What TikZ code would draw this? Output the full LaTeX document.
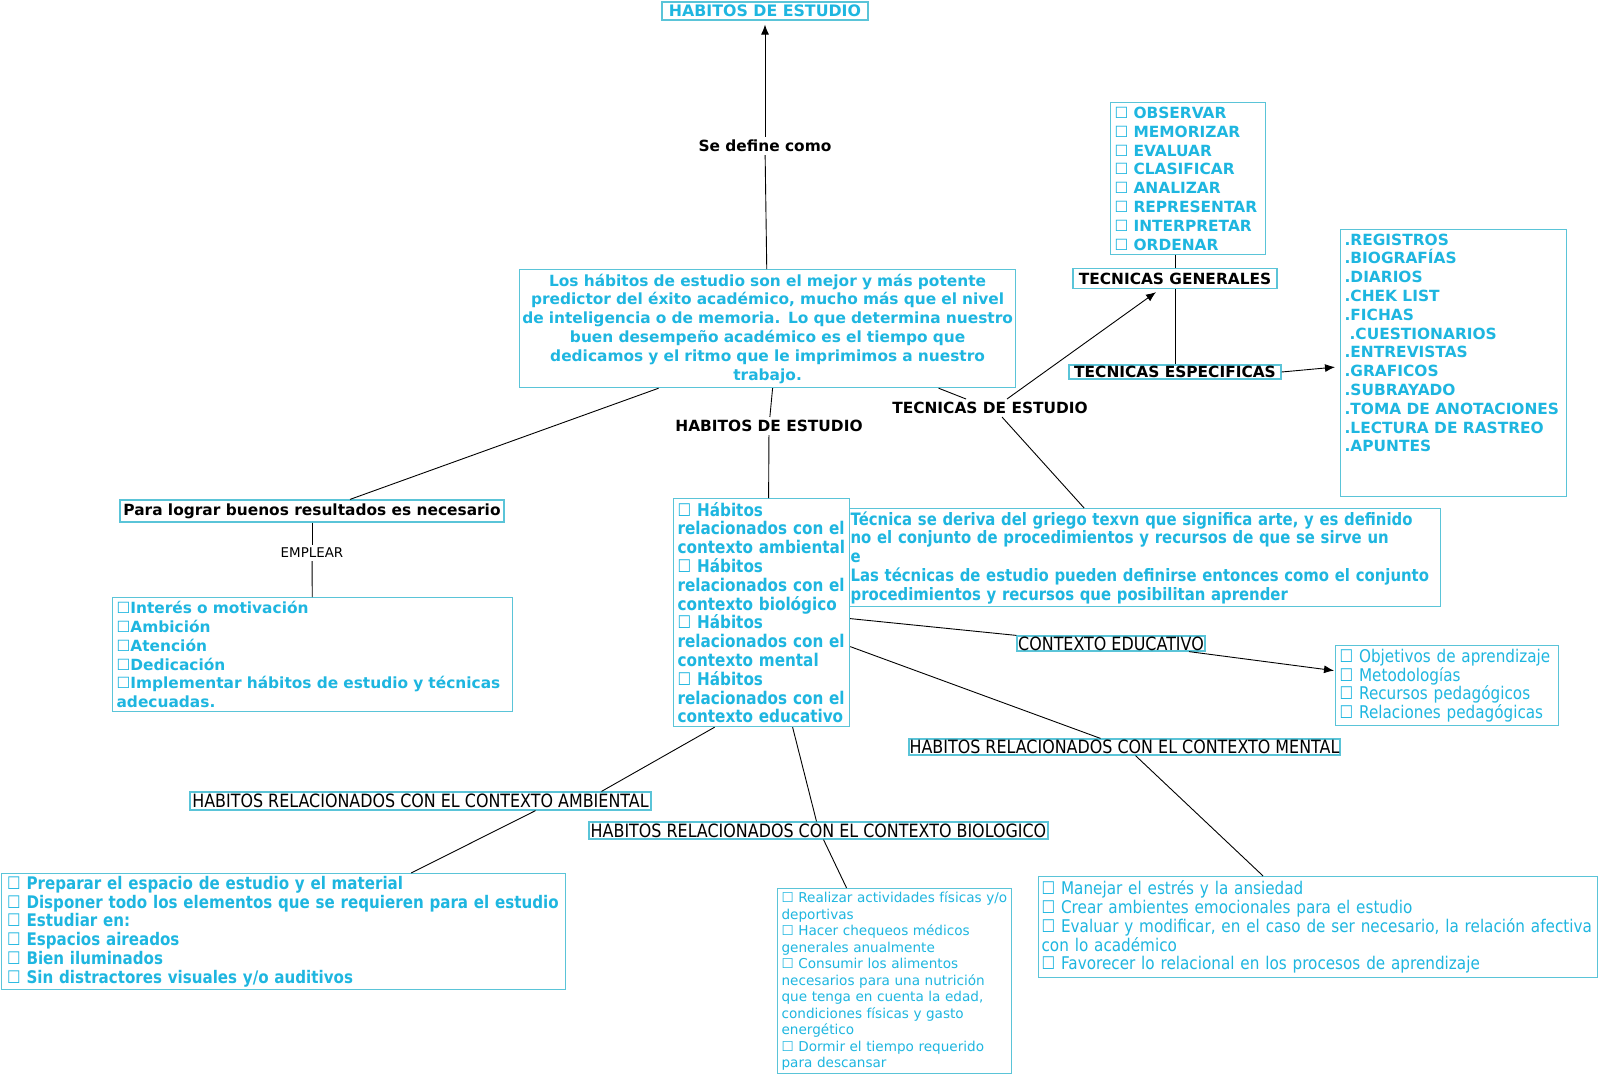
\documentclass[tikz,border=0pt]{standalone}
\usepackage{fontspec}
\setmainfont{DejaVu Sans}
\newfontfamily\condf{DejaVu Sans}[FakeStretch=0.87]
\usetikzlibrary{arrows.meta}
\definecolor{tc}{RGB}{30,182,224}
\definecolor{bc}{RGB}{90,196,216}
\hyphenpenalty=10000
\exhyphenpenalty=10000
\newcommand\fBold{\bfseries\fontsize{15.4}{18.8}\selectfont}
\newcommand\fTop{\bfseries\fontsize{15.8}{18.8}\selectfont}
\newcommand\fCB{\condf\bfseries\fontsize{17.5}{18.8}\selectfont}
\newcommand\fCBs{\condf\bfseries\fontsize{17.1}{18.8}\selectfont}
\newcommand\fCBa{\condf\bfseries\fontsize{17.35}{18.8}\selectfont}
\newcommand\fCR{\condf\fontsize{17.5}{18.8}\selectfont}
\newcommand\fLab{\condf\fontsize{18.3}{18.8}\selectfont}
\newcommand\fBio{\fontsize{13.6}{16.5}\selectfont}
\newcommand\fEmp{\fontsize{13.4}{16}\selectfont}
\newcommand\bx{{\mdseries ☐}}
\tikzset{
  cbox/.style={draw=bc, line width=1.2pt, fill=white, inner ysep=0pt, inner xsep=4pt, anchor=north west, align=left},
  lbox/.style={draw=bc, line width=1.2pt, fill=white, inner sep=0pt},
  lab/.style={inner sep=3pt, font=\fBold, text=black},
  conn/.style={draw=black, line width=0.9pt},
  arr/.style={-{Latex[length=10pt,width=8pt]}},
}
\begin{document}
\begin{tikzpicture}[x=1pt,y=-1pt]
\fill[white] (0,0) rectangle (1600,1077);
\useasboundingbox (0,0) rectangle (1600,1077);

% top
\node[lbox, font=\fTop, text=tc, minimum width=206pt, minimum height=18pt] (top) at (765,11) {HABITOS DE ESTUDIO};
\node[lab] (sedef) at (765,146) {Se define como};
\node[cbox, font=\fBold, text=tc, text width=494pt, inner xsep=1pt, align=center, minimum height=118pt] (main) at (519,269) {Los hábitos de estudio son el mejor y más potente\\ predictor del éxito académico, mucho más que el nivel\\ de inteligencia o de memoria. Lo que determina nuestro\\ buen desempeño académico es el tiempo que\\ dedicamos y el ritmo que le imprimimos a nuestro\\ trabajo.};

% tecnicas
\node[cbox, font=\fBold, text=tc, text width=147pt, minimum height=152pt] (verbs) at (1110,102) {\bx{} OBSERVAR\\ \bx{} MEMORIZAR\\ \bx{} EVALUAR\\ \bx{} CLASIFICAR\\ \bx{} ANALIZAR\\ \bx{} REPRESENTAR\\ \bx{} INTERPRETAR\\ \bx{} ORDENAR};
\node[lbox, font=\fBold, minimum width=204pt, minimum height=20pt] (tg) at (1175,278.5) {TECNICAS GENERALES};
\node[lbox, font=\fBold, minimum width=212pt, minimum height=14pt] (te) at (1175,372) {TECNICAS ESPECIFICAS};
\node[draw=bc, line width=1.2pt, fill=white, inner sep=4pt, anchor=north west, font=\fBold, text=tc] (list) at (1340,229) {\parbox[c][259pt][t]{218pt}{\raggedright .REGISTROS\\ .BIOGRAFÍAS\\ .DIARIOS\\ .CHEK LIST\\ .FICHAS\\ \hspace*{5pt}.CUESTIONARIOS\\ .ENTREVISTAS\\ .GRAFICOS\\ .SUBRAYADO\\ .TOMA DE ANOTACIONES\\ .LECTURA DE RASTREO\\ .APUNTES}};
\node[lab] (tde) at (990,408) {TECNICAS DE ESTUDIO};
\node[lab] (hde) at (769,426) {HABITOS DE ESTUDIO};

\node[cbox, font=\fCBs, text=tc, text width=589pt, minimum height=98pt, inner xsep=1pt] (tec) at (849,508) {Técnica se deriva del griego texvn que significa arte, y es definido\\ no el conjunto de procedimientos y recursos de que se sirve un\\ e\\ Las técnicas de estudio pueden definirse entonces como el conjunto\\ procedimientos y recursos que posibilitan aprender};

% left
\node[lbox, font=\fBold, minimum width=384pt, minimum height=22pt] (para) at (312,511) {Para lograr buenos resultados es necesario};
\node[inner sep=3pt, font=\fEmp] (emplear) at (312,553) {EMPLEAR};
\node[cbox, font=\fBold, text=tc, text width=392pt, minimum height=114pt] (mot) at (112,597) {\bx{}Interés o motivación\\ \bx{}Ambición\\ \bx{}Atención\\ \bx{}Dedicación\\ \bx{}Implementar hábitos de estudio y técnicas\\ adecuadas.};

% habitos
\node[cbox, font=\fCB, text=tc, text width=168pt, minimum height=228pt] (hab) at (673,498) {\bx{} Hábitos\\ relacionados con el\\ contexto ambiental\\ \bx{} Hábitos\\ relacionados con el\\ contexto biológico\\ \bx{} Hábitos\\ relacionados con el\\ contexto mental\\ \bx{} Hábitos\\ relacionados con el\\ contexto educativo};

\node[lbox, font=\fLab, minimum width=188pt, minimum height=15pt] (ce) at (1111,643.5) {CONTEXTO EDUCATIVO};
\node[cbox, font=\fCR, text=tc, text width=215pt, minimum height=80pt] (obj) at (1335,645) {\bx{} Objetivos de aprendizaje\\ \bx{} Metodologías\\ \bx{} Recursos pedagógicos\\ \bx{} Relaciones pedagógicas};
\node[lbox, font=\fLab, minimum width=431pt, minimum height=16pt] (cm) at (1124.5,747) {HABITOS RELACIONADOS CON EL CONTEXTO MENTAL};
\node[cbox, font=\fCR, text=tc, text width=553pt, inner xsep=3pt, minimum height=101pt] (mental) at (1038,876) {\bx{} Manejar el estrés y la ansiedad\\ \bx{} Crear ambientes emocionales para el estudio\\ \bx{} Evaluar y modificar, en el caso de ser necesario, la relación afectiva\\ con lo académico\\ \bx{} Favorecer lo relacional en los procesos de aprendizaje};
\node[lbox, font=\fLab, minimum width=461pt, minimum height=18pt] (ca) at (420.5,801) {HABITOS RELACIONADOS CON EL CONTEXTO AMBIENTAL};
\node[cbox, font=\fCBa, text=tc, text width=552pt, inner xsep=6pt, minimum height=116pt] (amb) at (0.6,873) {\bx{} Preparar el espacio de estudio y el material\\ \bx{} Disponer todo los elementos que se requieren para el estudio\\ \bx{} Estudiar en:\\ \bx{} Espacios aireados\\ \bx{} Bien iluminados\\ \bx{} Sin distractores visuales y/o auditivos};
\node[lbox, font=\fLab, minimum width=459pt, minimum height=17pt] (cb) at (818.5,830.5) {HABITOS RELACIONADOS CON EL CONTEXTO BIOLOGICO};
\node[cbox, font=\fBio, text=tc, text width=226pt, minimum height=185pt] (bio) at (777,888) {\bx{} Realizar actividades físicas y/o\\ deportivas\\ \bx{} Hacer chequeos médicos\\ generales anualmente\\ \bx{} Consumir los alimentos\\ necesarios para una nutrición\\ que tenga en cuenta la edad,\\ condiciones físicas y gasto\\ energético\\ \bx{} Dormir el tiempo requerido\\ para descansar};

% connectors
\draw[conn] (main) -- (sedef);
\draw[conn,arr] (sedef) -- ([yshift=-4pt]top.south);
\draw[conn] ([xshift=-109pt]main.south) -- ([xshift=38pt]para.north);
\draw[conn] ([xshift=5pt]main.south) -- (hde);
\draw[conn] (hde) -- ([xshift=7pt]hab.north);
\draw[conn] ([xshift=171pt]main.south) -- ([xshift=-24pt]tde.north);
\draw[conn,arr] ([xshift=17pt]tde.north) -- ([xshift=-19pt,yshift=-3pt]tg.south);
\draw[conn] ([xshift=12pt]tde.south) -- ([xshift=-61pt]tec.north);
\draw[conn] (tg.north |- verbs.south) -- (tg.north);
\draw[conn] (tg) -- (te);
\draw[conn,arr] (te.east) -- ([xshift=-5pt,yshift=-4pt]list.west);
\draw[conn] (para) -- (emplear);
\draw[conn] (emplear) -- (mot);
\draw[conn] ([yshift=-6pt]hab.east) -- (ce.north west);
\draw[conn,arr] ([xshift=78pt]ce.south) -- ([xshift=-1pt,yshift=15pt]obj.west);
\draw[conn] ([yshift=-34pt]hab.east) -- ([xshift=-24pt]cm.north);
\draw[conn] ([xshift=11pt]cm.south) -- ([xshift=-55pt]mental.north);
\draw[conn] ([xshift=-47pt]hab.south) -- ([xshift=181pt]ca.north);
\draw[conn] ([xshift=115pt]ca.south) -- ([xshift=128pt]amb.north);
\draw[conn] ([xshift=31pt]hab.south) -- ([xshift=-2pt]cb.north);
\draw[conn] ([xshift=5pt]cb.south) -- ([xshift=-48pt]bio.north);
\end{tikzpicture}
\end{document}
